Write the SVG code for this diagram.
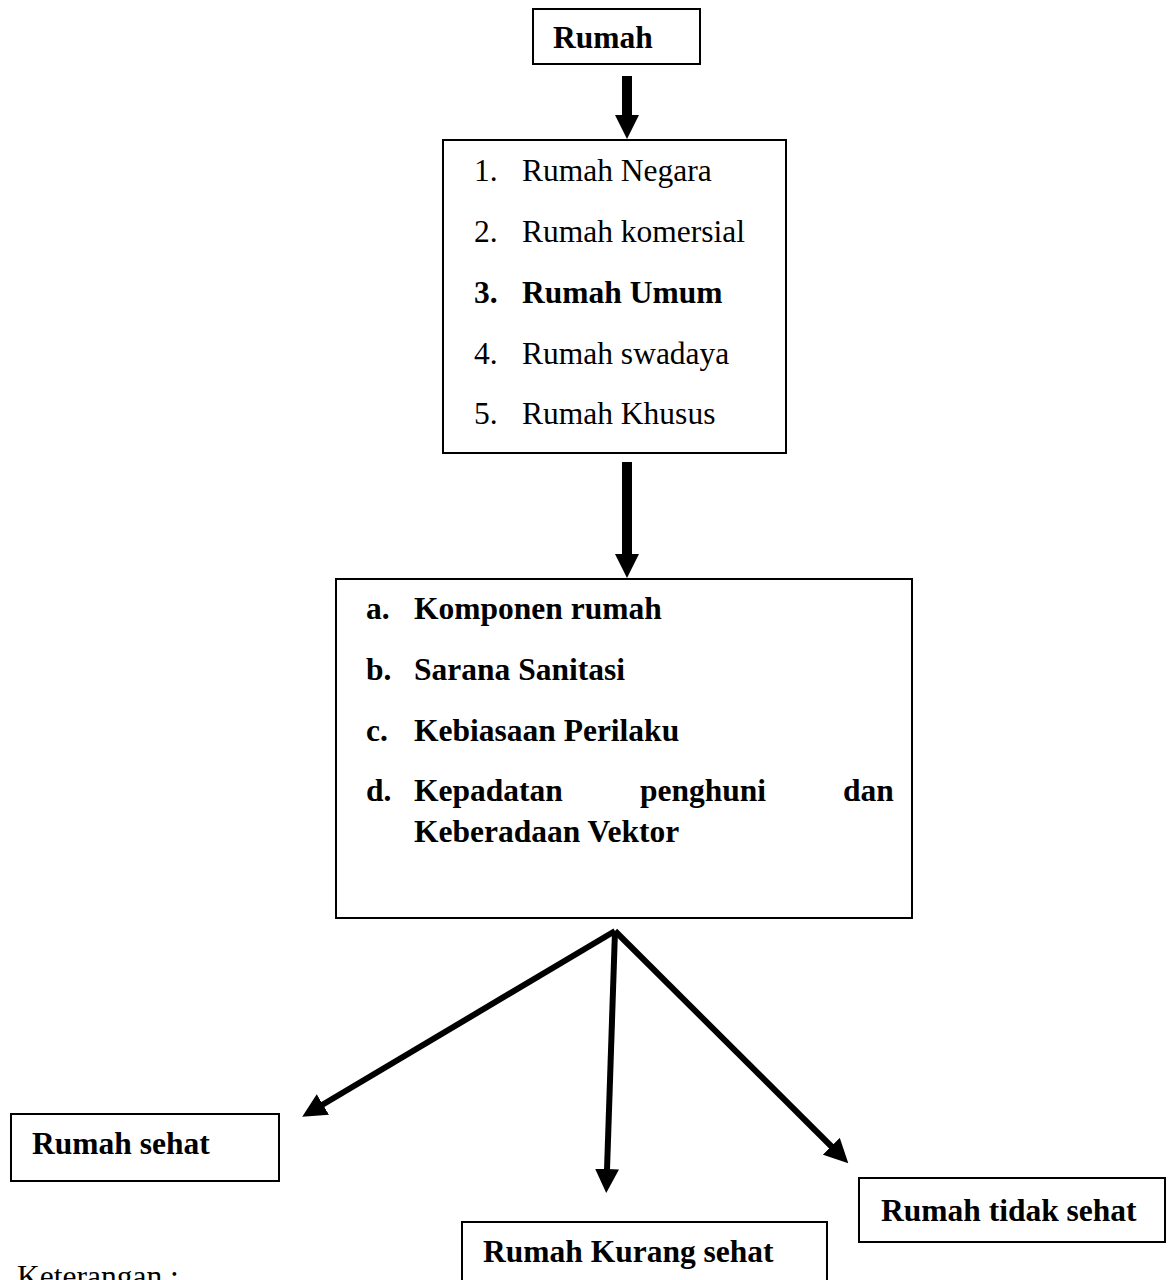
<svg xmlns="http://www.w3.org/2000/svg" width="1174" height="1280" viewBox="0 0 1174 1280">
<style>
.box{fill:#fff;stroke:#000;stroke-width:2}
text{font-family:"Liberation Serif","Times New Roman",serif;font-size:31.5px;fill:#000}
.b{font-weight:bold}
.conn{stroke:#000;fill:none}
.thin{stroke-width:6}
.thick{stroke-width:10}
</style>
<defs>
<marker id="ah" markerUnits="userSpaceOnUse" viewBox="0 0 24 24" markerWidth="24" markerHeight="24" refX="1" refY="12" orient="auto">
<path d="M0,0 L24,12 L0,24 z" fill="#000"/>
</marker>
</defs>
<rect width="1174" height="1280" fill="#fff"/>
<g id="rumah">
<rect class="box" x="533" y="9" width="167" height="55"/>
<text class="b" x="553" y="48">Rumah</text>
</g>
<g id="jenis">
<rect class="box" x="443" y="140" width="343" height="313"/>
<text x="474" y="181">1.</text><text x="522" y="181">Rumah Negara</text>
<text x="474" y="242">2.</text><text x="522" y="242">Rumah komersial</text>
<text class="b" x="474" y="303">3.</text><text class="b" x="522" y="303">Rumah Umum</text>
<text x="474" y="364">4.</text><text x="522" y="364">Rumah swadaya</text>
<text x="474" y="424">5.</text><text x="522" y="424">Rumah Khusus</text>
</g>
<g id="komponen">
<rect class="box" x="336" y="579" width="576" height="339"/>
<text class="b" x="366" y="619">a.</text><text class="b" x="414" y="619">Komponen rumah</text>
<text class="b" x="366" y="680">b.</text><text class="b" x="414" y="680">Sarana Sanitasi</text>
<text class="b" x="366" y="741">c.</text><text class="b" x="414" y="741">Kebiasaan Perilaku</text>
<text class="b" x="366" y="801">d.</text><text class="b" x="414" y="801">Kepadatan</text><text class="b" x="640" y="801">penghuni</text><text class="b" x="843" y="801">dan</text>
<text class="b" x="414" y="842">Keberadaan Vektor</text>
</g>
<g id="sehat">
<rect class="box" x="11" y="1114" width="268" height="67"/>
<text class="b" x="32" y="1154">Rumah sehat</text>
</g>
<g id="kurang">
<rect class="box" x="462" y="1222" width="365" height="70"/>
<text class="b" x="483" y="1262">Rumah Kurang sehat</text>
</g>
<g id="tidak">
<rect class="box" x="859" y="1178" width="306" height="64"/>
<text class="b" x="881" y="1221">Rumah tidak sehat</text>
</g>
<g id="keterangan">
<text x="17" y="1287">Keterangan :</text>
</g>
<g id="connectors">
<line class="conn thick" x1="627" y1="76" x2="627" y2="116" marker-end="url(#ah)"/>
<line class="conn thick" x1="627" y1="462" x2="627" y2="555" marker-end="url(#ah)"/>
<line class="conn thin" x1="615" y1="931" x2="322" y2="1105" marker-end="url(#ah)"/>
<line class="conn thin" x1="615" y1="931" x2="607" y2="1170" marker-end="url(#ah)"/>
<line class="conn thin" x1="615" y1="931" x2="832" y2="1147" marker-end="url(#ah)"/>
</g>
</svg>
